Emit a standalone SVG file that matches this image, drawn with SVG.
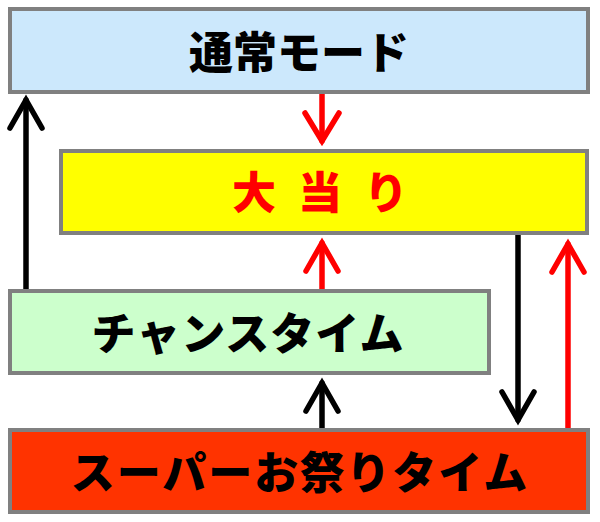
<svg xmlns="http://www.w3.org/2000/svg" width="600" height="522" viewBox="0 0 600 522">
<style>
.box{stroke:#808080;stroke-width:4}
.t{font-family:"Noto Sans CJK JP","Noto Sans CJK SC",sans-serif;font-weight:900;font-size:44px;text-anchor:middle;fill:#000}
.k{stroke:#000;stroke-width:5.5;fill:none;stroke-linecap:round;stroke-linejoin:miter}
.r{stroke:#FF0000;stroke-width:5.5;fill:none;stroke-linecap:round;stroke-linejoin:miter}
</style>
<rect width="600" height="522" fill="#fff"/>
<g id="connectors">
<g class="k">
<path d="M26,290 V100"/><path d="M10,128 L26,100 L42,128"/>
<path d="M322,430 V383"/><path d="M306,411 L322,383 L338,411"/>
<path d="M518,233 V420"/><path d="M502,392 L518,420 L534,392"/>
</g>
<g class="r">
<path d="M322,94 V141"/><path d="M305,113 L322,141 L339,113"/>
<path d="M322,290 V243"/><path d="M306,271 L322,243 L338,271"/>
<path d="M568,430 V244"/><path d="M552,272 L568,244 L584,272"/>
</g>
</g>
<g id="normal">
<rect class="box" x="10" y="9" width="578" height="83" fill="#CCE8FC"/>
<text class="t" x="299" y="69">通常モード</text>
</g>
<g id="jackpot">
<rect class="box" x="61" y="151" width="526" height="82" fill="#FFFF00"/>
<text class="t" x="320" y="209" style="fill:#FF0000" word-spacing="12">大 当 り</text>
</g>
<g id="chance">
<rect class="box" x="10" y="291" width="479" height="82" fill="#CCFFCC"/>
<text class="t" x="248" y="350" letter-spacing="1">チャンスタイム</text>
</g>
<g id="super">
<rect class="box" x="10" y="430" width="578" height="82" fill="#FF3300"/>
<text class="t" x="300" y="489" letter-spacing="2">スーパーお祭りタイム</text>
</g>
</svg>
